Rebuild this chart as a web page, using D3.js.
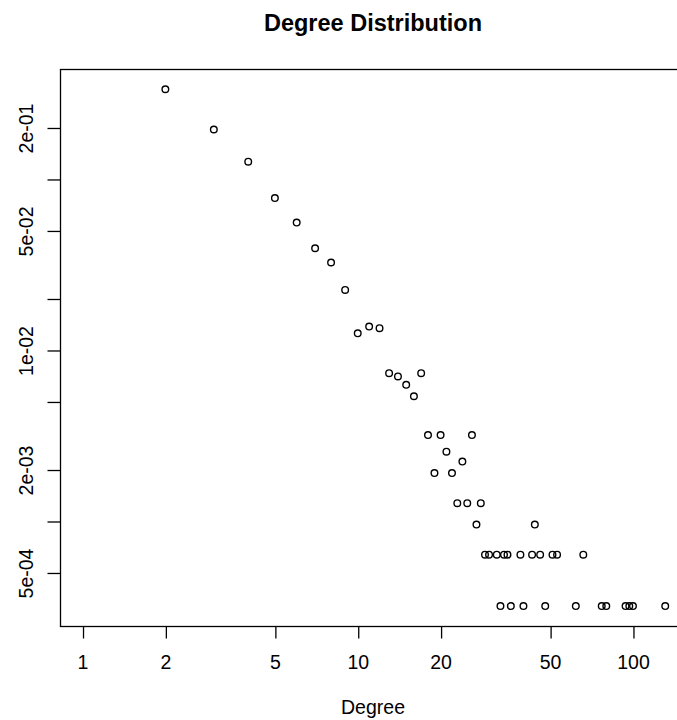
<!DOCTYPE html>
<html>
<head>
<meta charset="utf-8">
<script src="https://cdn.jsdelivr.net/npm/d3@7"></script>
<style>
  html, body { margin: 0; padding: 0; background: #fff; }
  svg { display: block; }
  text { font-family: "Liberation Sans", Arial, sans-serif; fill: #000; }
</style>
</head>
<body>
<svg id="chart" width="677" height="720"></svg>
<script>
// ---- data ----
const degrees = [2,3,4,5,6,7,8,9,10,11,12,13,14,15,16,17,18,19,20,21,22,23,24,25,26,27,28,
                 29,30,32,34,35,39,43,44,46,51,53,66,
                 33,36,40,48,62,77,80,94,97,100,131];
const probabilities = [0.337,0.196,0.127,0.0778,0.056,0.0396,0.0327,0.0226,0.0126,0.0138,0.0135,
                       0.00737,0.00705,0.0063,0.0054,0.00737,0.0032,0.00192,0.0032,0.00256,0.00192,
                       0.00128,0.00224,0.00128,0.0032,0.00096,0.00128,
                       0.00064,0.00064,0.00064,0.00064,0.00064,0.00064,0.00064,0.00096,0.00064,0.00064,0.00064,0.00064,
                       0.00032,0.00032,0.00032,0.00032,0.00032,0.00032,0.00032,0.00032,0.00032,0.00032,0.00032];
const xTicks = [1,2,5,10,20,50,100];
const yTicks = [0.2,0.1,0.05,0.02,0.01,0.005,0.002,0.001,0.0005];
const yTickLabels = ["2e-01","","5e-02","","1e-02","","2e-03","","5e-04"];
const titleText = "Degree Distribution";
const xLabel = "Degree";

// ---- layout ----
const svg = d3.select("#chart");
const box = {left: 60.5, right: 688, top: 69.5, bottom: 626.5};

const x = d3.scaleLog()
  .domain([Math.pow(10, -0.08), Math.pow(10, 2.2)])
  .range([box.left, box.right]);
const y = d3.scaleLog()
  .domain([Math.pow(10, -3.614), Math.pow(10, -0.357)])
  .range([box.bottom, box.top]);

// title
svg.append("text")
  .attr("x", 373).attr("y", 31)
  .attr("text-anchor", "middle")
  .style("font-weight", "bold").style("font-size", "23.5px")
  .text(titleText);

// plot box
svg.append("rect")
  .attr("x", box.left).attr("y", box.top)
  .attr("width", box.right - box.left).attr("height", box.bottom - box.top)
  .attr("fill", "none").attr("stroke", "#000").attr("stroke-width", 1.3);

// x axis
const xAxis = d3.axisBottom(x).tickValues(xTicks).tickFormat(d3.format("d"))
  .tickSize(12).tickPadding(17);
const gx = svg.append("g").attr("transform", `translate(0,${box.bottom})`).call(xAxis);
gx.select(".domain").remove();
gx.selectAll(".tick line").attr("stroke", "#000").attr("stroke-width", 1.3)
  .attr("transform", "translate(0.5,0)");
gx.selectAll(".tick text").style("font-size", "19.5px").attr("font-family", null);

// y axis
const yAxis = d3.axisLeft(y).tickValues(yTicks)
  .tickFormat((d, i) => yTickLabels[i]).tickSize(13).tickPadding(0);
const gy = svg.append("g").attr("transform", `translate(${box.left},0)`).call(yAxis);
gy.select(".domain").remove();
gy.selectAll(".tick line").attr("stroke", "#000").attr("stroke-width", 1.3);
gy.selectAll(".tick text")
  .style("font-size", "19.5px").attr("font-family", null)
  .attr("x", null).attr("dy", null)
  .attr("text-anchor", "middle")
  .attr("transform", "translate(-27.5,0) rotate(-90)");

// x label
svg.append("text")
  .attr("x", 373).attr("y", 714)
  .attr("text-anchor", "middle")
  .style("font-size", "19.5px")
  .text(xLabel);

// points
svg.append("g").selectAll("circle")
  .data(degrees.map((d, i) => ({d, p: probabilities[i]})))
  .join("circle")
  .attr("cx", v => x(v.d))
  .attr("cy", v => y(v.p))
  .attr("r", 3.3)
  .attr("fill", "none")
  .attr("stroke", "#000")
  .attr("stroke-width", 1.4);
</script>
</body>
</html>
